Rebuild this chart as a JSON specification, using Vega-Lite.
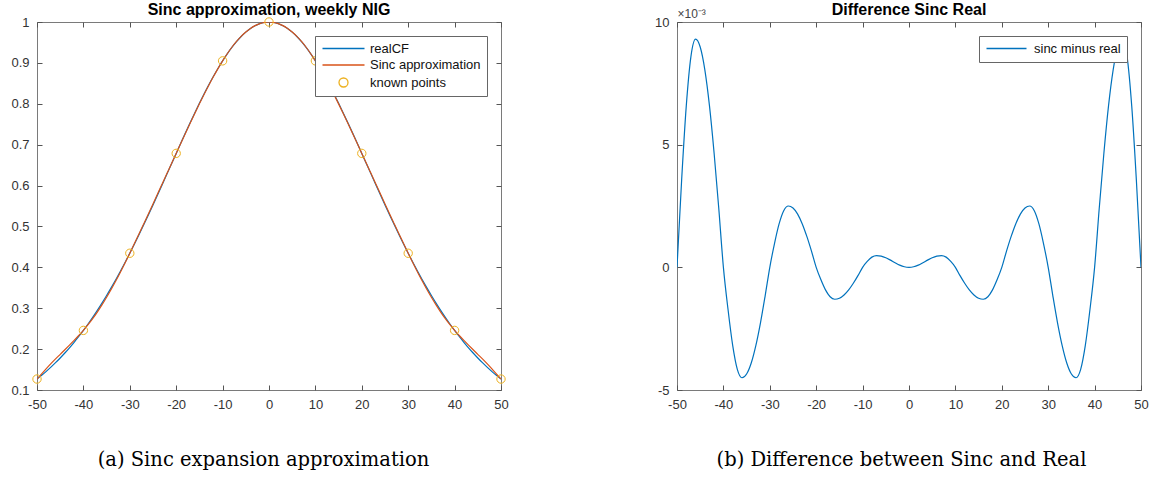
{
  "$schema": "https://vega.github.io/schema/vega-lite/v6.json",
  "background": "white",
  "padding": {"left": 10, "top": 1, "right": 5, "bottom": 2},
  "bounds": "flush",
  "spacing": 176,
  "config": {
    "view": {"stroke": "#7a7a7a", "strokeWidth": 1},
    "axis": {
      "grid": false, "domain": false, "tickColor": "#555", "tickSize": -5, "tickWidth": 1,
      "labelFont": "Liberation Sans", "labelFontSize": 13, "labelColor": "#333", "labelPadding": 13,
      "labelFlush": false, "labelOverlap": false,
      "titleFont": "DejaVu Serif", "titleFontSize": 19.5, "titleFontWeight": "normal", "titleColor": "#000"
    },
    "legend": {
      "title": null, "orient": "top-right", "offset": 14, "fillColor": "white", "strokeColor": "#666",
      "padding": 6, "labelFont": "Liberation Sans", "labelFontSize": 13, "labelColor": "#111",
      "symbolSize": 100, "labelOffset": 36, "rowPadding": 2.5, "symbolStrokeWidth": 1.3
    },
    "title": {"font": "Liberation Sans", "fontSize": 16, "fontWeight": "bold", "color": "#000", "anchor": "middle"}
  },
  "datasets": {
    "cf": [
      {"u": -50, "real": 0.12682, "sinc": 0.12682, "diff": 0},
      {"u": -49, "real": 0.13596, "sinc": 0.13952, "diff": 0.00356},
      {"u": -48, "real": 0.14564, "sinc": 0.15222, "diff": 0.00658},
      {"u": -47, "real": 0.15591, "sinc": 0.1645, "diff": 0.00859},
      {"u": -46, "real": 0.16679, "sinc": 0.17609, "diff": 0.0093},
      {"u": -45, "real": 0.17829, "sinc": 0.18727, "diff": 0.00898},
      {"u": -44, "real": 0.19042, "sinc": 0.19847, "diff": 0.00805},
      {"u": -43, "real": 0.20322, "sinc": 0.2098, "diff": 0.00658},
      {"u": -42, "real": 0.2167, "sinc": 0.22135, "diff": 0.00465},
      {"u": -41, "real": 0.23088, "sinc": 0.23329, "diff": 0.00241},
      {"u": -40, "real": 0.24577, "sinc": 0.24577, "diff": 0},
      {"u": -39, "real": 0.26138, "sinc": 0.25966, "diff": -0.00172},
      {"u": -38, "real": 0.27772, "sinc": 0.27454, "diff": -0.00318},
      {"u": -37, "real": 0.29479, "sinc": 0.29063, "diff": -0.00416},
      {"u": -36, "real": 0.3126, "sinc": 0.3081, "diff": -0.0045},
      {"u": -35, "real": 0.33114, "sinc": 0.32679, "diff": -0.00435},
      {"u": -34, "real": 0.3504, "sinc": 0.3465, "diff": -0.0039},
      {"u": -33, "real": 0.37038, "sinc": 0.3672, "diff": -0.00318},
      {"u": -32, "real": 0.39107, "sinc": 0.38882, "diff": -0.00225},
      {"u": -31, "real": 0.41242, "sinc": 0.41126, "diff": -0.00116},
      {"u": -30, "real": 0.43443, "sinc": 0.43443, "diff": 0},
      {"u": -29, "real": 0.45705, "sinc": 0.45801, "diff": 0.00096},
      {"u": -28, "real": 0.48022, "sinc": 0.48199, "diff": 0.00177},
      {"u": -27, "real": 0.50392, "sinc": 0.50623, "diff": 0.00231},
      {"u": -26, "real": 0.52808, "sinc": 0.53058, "diff": 0.0025},
      {"u": -25, "real": 0.55264, "sinc": 0.55506, "diff": 0.00242},
      {"u": -24, "real": 0.57753, "sinc": 0.5797, "diff": 0.00217},
      {"u": -23, "real": 0.60267, "sinc": 0.60444, "diff": 0.00177},
      {"u": -22, "real": 0.62796, "sinc": 0.62921, "diff": 0.00125},
      {"u": -21, "real": 0.65334, "sinc": 0.65399, "diff": 0.00065},
      {"u": -20, "real": 0.67868, "sinc": 0.67868, "diff": 0},
      {"u": -19, "real": 0.70389, "sinc": 0.70339, "diff": -0.0005},
      {"u": -18, "real": 0.72885, "sinc": 0.72793, "diff": -0.00092},
      {"u": -17, "real": 0.75345, "sinc": 0.75225, "diff": -0.0012},
      {"u": -16, "real": 0.77756, "sinc": 0.77626, "diff": -0.0013},
      {"u": -15, "real": 0.80105, "sinc": 0.79979, "diff": -0.00126},
      {"u": -14, "real": 0.82382, "sinc": 0.82269, "diff": -0.00113},
      {"u": -13, "real": 0.84572, "sinc": 0.8448, "diff": -0.00092},
      {"u": -12, "real": 0.86662, "sinc": 0.86597, "diff": -0.00065},
      {"u": -11, "real": 0.88641, "sinc": 0.88607, "diff": -0.00034},
      {"u": -10, "real": 0.90496, "sinc": 0.90496, "diff": 0},
      {"u": -9, "real": 0.92214, "sinc": 0.92238, "diff": 0.00024},
      {"u": -8, "real": 0.93786, "sinc": 0.93828, "diff": 0.000416},
      {"u": -7, "real": 0.95199, "sinc": 0.95247, "diff": 0.00048},
      {"u": -6, "real": 0.96446, "sinc": 0.96492, "diff": 0.000456},
      {"u": -5, "real": 0.97514, "sinc": 0.97553, "diff": 0.00039},
      {"u": -4, "real": 0.98401, "sinc": 0.9843, "diff": 0.000293},
      {"u": -3, "real": 0.99096, "sinc": 0.99115, "diff": 0.000187},
      {"u": -2, "real": 0.99598, "sinc": 0.99607, "diff": 0.00009},
      {"u": -1, "real": 0.99899, "sinc": 0.99901, "diff": 0.000024},
      {"u": 0, "real": 1, "sinc": 1, "diff": 0},
      {"u": 1, "real": 0.99899, "sinc": 0.99901, "diff": 0.000024},
      {"u": 2, "real": 0.99598, "sinc": 0.99607, "diff": 0.00009},
      {"u": 3, "real": 0.99096, "sinc": 0.99115, "diff": 0.000187},
      {"u": 4, "real": 0.98401, "sinc": 0.9843, "diff": 0.000293},
      {"u": 5, "real": 0.97514, "sinc": 0.97553, "diff": 0.00039},
      {"u": 6, "real": 0.96446, "sinc": 0.96492, "diff": 0.000456},
      {"u": 7, "real": 0.95199, "sinc": 0.95247, "diff": 0.00048},
      {"u": 8, "real": 0.93786, "sinc": 0.93828, "diff": 0.000416},
      {"u": 9, "real": 0.92214, "sinc": 0.92238, "diff": 0.00024},
      {"u": 10, "real": 0.90496, "sinc": 0.90496, "diff": 0},
      {"u": 11, "real": 0.88641, "sinc": 0.88607, "diff": -0.00034},
      {"u": 12, "real": 0.86662, "sinc": 0.86597, "diff": -0.00065},
      {"u": 13, "real": 0.84572, "sinc": 0.8448, "diff": -0.00092},
      {"u": 14, "real": 0.82382, "sinc": 0.82269, "diff": -0.00113},
      {"u": 15, "real": 0.80105, "sinc": 0.79979, "diff": -0.00126},
      {"u": 16, "real": 0.77756, "sinc": 0.77626, "diff": -0.0013},
      {"u": 17, "real": 0.75345, "sinc": 0.75225, "diff": -0.0012},
      {"u": 18, "real": 0.72885, "sinc": 0.72793, "diff": -0.00092},
      {"u": 19, "real": 0.70389, "sinc": 0.70339, "diff": -0.0005},
      {"u": 20, "real": 0.67868, "sinc": 0.67868, "diff": 0},
      {"u": 21, "real": 0.65334, "sinc": 0.65399, "diff": 0.00065},
      {"u": 22, "real": 0.62796, "sinc": 0.62921, "diff": 0.00125},
      {"u": 23, "real": 0.60267, "sinc": 0.60444, "diff": 0.00177},
      {"u": 24, "real": 0.57753, "sinc": 0.5797, "diff": 0.00217},
      {"u": 25, "real": 0.55264, "sinc": 0.55506, "diff": 0.00242},
      {"u": 26, "real": 0.52808, "sinc": 0.53058, "diff": 0.0025},
      {"u": 27, "real": 0.50392, "sinc": 0.50623, "diff": 0.00231},
      {"u": 28, "real": 0.48022, "sinc": 0.48199, "diff": 0.00177},
      {"u": 29, "real": 0.45705, "sinc": 0.45801, "diff": 0.00096},
      {"u": 30, "real": 0.43443, "sinc": 0.43443, "diff": 0},
      {"u": 31, "real": 0.41242, "sinc": 0.41126, "diff": -0.00116},
      {"u": 32, "real": 0.39107, "sinc": 0.38882, "diff": -0.00225},
      {"u": 33, "real": 0.37038, "sinc": 0.3672, "diff": -0.00318},
      {"u": 34, "real": 0.3504, "sinc": 0.3465, "diff": -0.0039},
      {"u": 35, "real": 0.33114, "sinc": 0.32679, "diff": -0.00435},
      {"u": 36, "real": 0.3126, "sinc": 0.3081, "diff": -0.0045},
      {"u": 37, "real": 0.29479, "sinc": 0.29063, "diff": -0.00416},
      {"u": 38, "real": 0.27772, "sinc": 0.27454, "diff": -0.00318},
      {"u": 39, "real": 0.26138, "sinc": 0.25966, "diff": -0.00172},
      {"u": 40, "real": 0.24577, "sinc": 0.24577, "diff": 0},
      {"u": 41, "real": 0.23088, "sinc": 0.23329, "diff": 0.00241},
      {"u": 42, "real": 0.2167, "sinc": 0.22135, "diff": 0.00465},
      {"u": 43, "real": 0.20322, "sinc": 0.2098, "diff": 0.00658},
      {"u": 44, "real": 0.19042, "sinc": 0.19847, "diff": 0.00805},
      {"u": 45, "real": 0.17829, "sinc": 0.18727, "diff": 0.00898},
      {"u": 46, "real": 0.16679, "sinc": 0.17609, "diff": 0.0093},
      {"u": 47, "real": 0.15591, "sinc": 0.1645, "diff": 0.00859},
      {"u": 48, "real": 0.14564, "sinc": 0.15222, "diff": 0.00658},
      {"u": 49, "real": 0.13596, "sinc": 0.13952, "diff": 0.00356},
      {"u": 50, "real": 0.12682, "sinc": 0.12682, "diff": 0}
    ],
    "known": [
      {"u": -50, "v": 0.12682}, {"u": -40, "v": 0.24577}, {"u": -30, "v": 0.43443},
      {"u": -20, "v": 0.67868}, {"u": -10, "v": 0.90496}, {"u": 0, "v": 1},
      {"u": 10, "v": 0.90496}, {"u": 20, "v": 0.67868}, {"u": 30, "v": 0.43443},
      {"u": 40, "v": 0.24577}, {"u": 50, "v": 0.12682}
    ]
  },
  "resolve": {"scale": {"color": "independent", "x": "independent", "y": "independent"}, "legend": {"color": "independent"}},
  "hconcat": [
    {
      "width": 464, "height": 368,
      "title": {"text": "Sinc approximation, weekly NIG", "offset": -2},
      "resolve": {"axis": {"x": "independent", "y": "independent"}},
      "layer": [
        {
          "data": {"name": "cf"},
          "mark": {"type": "line", "strokeWidth": 1.2, "interpolate": "monotone", "clip": true},
          "encoding": {
            "x": {"field": "u", "type": "quantitative", "scale": {"domain": [-50, 50], "nice": false, "zero": false},
                  "axis": {"orient": "bottom", "values": [-50, -40, -30, -20, -10, 0, 10, 20, 30, 40, 50],
                           "labelExpr": "datum.value < 0 ? '-' + (-datum.value) : '' + datum.value",
                           "title": "(a) Sinc expansion approximation", "titlePadding": 39, "titleX": 226}},
            "y": {"field": "real", "type": "quantitative", "scale": {"domain": [0.1, 1], "nice": false, "zero": false},
                  "axis": {"orient": "left", "values": [0.1, 0.2, 0.3, 0.4, 0.5, 0.6, 0.7, 0.8, 0.9, 1], "format": "~g", "title": null}},
            "color": {"datum": "realCF",
                      "scale": {"domain": ["realCF", "Sinc approximation", "known points"], "range": ["#0072BD", "#D95319", "#EDB120"]},
                      "legend": {"offset": 14,
                                 "encode": {"symbols": {"update": {
                                   "shape": {"signal": "datum.value === 'known points' ? 'M4.1,0A0.9,0.9,0,1,1,2.3,0A0.9,0.9,0,1,1,4.1,0Z' : 'M-1,0H7.4'"},
                                   "fill": {"value": "transparent"}}}}}}
          }
        },
        {
          "data": {"name": "cf"},
          "mark": {"type": "line", "strokeWidth": 1.2, "interpolate": "monotone", "clip": true},
          "encoding": {
            "x": {"field": "u", "type": "quantitative", "axis": null},
            "y": {"field": "sinc", "type": "quantitative", "axis": null},
            "color": {"datum": "Sinc approximation"}
          }
        },
        {
          "data": {"name": "known"},
          "mark": {"type": "point", "shape": "circle", "filled": false, "size": 70, "strokeWidth": 1, "opacity": 1},
          "encoding": {
            "x": {"field": "u", "type": "quantitative", "axis": {"orient": "top", "labels": false, "title": null, "values": [-50, -40, -30, -20, -10, 0, 10, 20, 30, 40, 50]}},
            "y": {"field": "v", "type": "quantitative", "axis": {"orient": "right", "labels": false, "title": null, "values": [0.1, 0.2, 0.3, 0.4, 0.5, 0.6, 0.7, 0.8, 0.9, 1]}},
            "color": {"datum": "known points"}
          }
        }
      ]
    },
    {
      "width": 464, "height": 368,
      "title": {"text": "Difference Sinc Real", "offset": -11},
      "resolve": {"axis": {"x": "independent", "y": "independent"}},
      "layer": [
        {
          "data": {"name": "cf"},
          "mark": {"type": "line", "strokeWidth": 1.2, "interpolate": "monotone", "clip": true},
          "encoding": {
            "x": {"field": "u", "type": "quantitative", "scale": {"domain": [-50, 50], "nice": false, "zero": false},
                  "axis": {"orient": "bottom", "values": [-50, -40, -30, -20, -10, 0, 10, 20, 30, 40, 50],
                           "labelExpr": "datum.value < 0 ? '-' + (-datum.value) : '' + datum.value",
                           "title": "(b) Difference between Sinc and Real", "titlePadding": 39, "titleX": 224}},
            "y": {"field": "diff", "type": "quantitative", "scale": {"domain": [-0.005, 0.01], "nice": false, "zero": false},
                  "axis": {"orient": "left", "values": [-0.005, 0, 0.005, 0.01],
                           "labelExpr": "datum.value < 0 ? '-' + format(-datum.value * 1000, '~g') : format(datum.value * 1000, '~g')",
                           "title": "×10⁻³", "titleAngle": 0, "titleAlign": "left", "titleBaseline": "alphabetic",
                           "titleX": 0, "titleY": -5, "titleFont": "Liberation Sans", "titleFontSize": 12, "titleColor": "#444"}},
            "color": {"datum": "sinc minus real",
                      "scale": {"domain": ["sinc minus real"], "range": ["#0072BD"]},
                      "legend": {"offset": 14,
                                 "encode": {"symbols": {"update": {
                                   "shape": {"value": "M-1,0H7"},
                                   "fill": {"value": "transparent"}}}}}}
          }
        },
        {
          "data": {"name": "known"},
          "mark": {"type": "point", "opacity": 0},
          "encoding": {
            "x": {"field": "u", "type": "quantitative", "axis": {"orient": "top", "labels": false, "title": null, "values": [-50, -40, -30, -20, -10, 0, 10, 20, 30, 40, 50]}},
            "y": {"datum": 0, "type": "quantitative", "axis": {"orient": "right", "labels": false, "title": null, "values": [-0.005, 0, 0.005, 0.01]}}
          }
        }
      ]
    }
  ]
}
